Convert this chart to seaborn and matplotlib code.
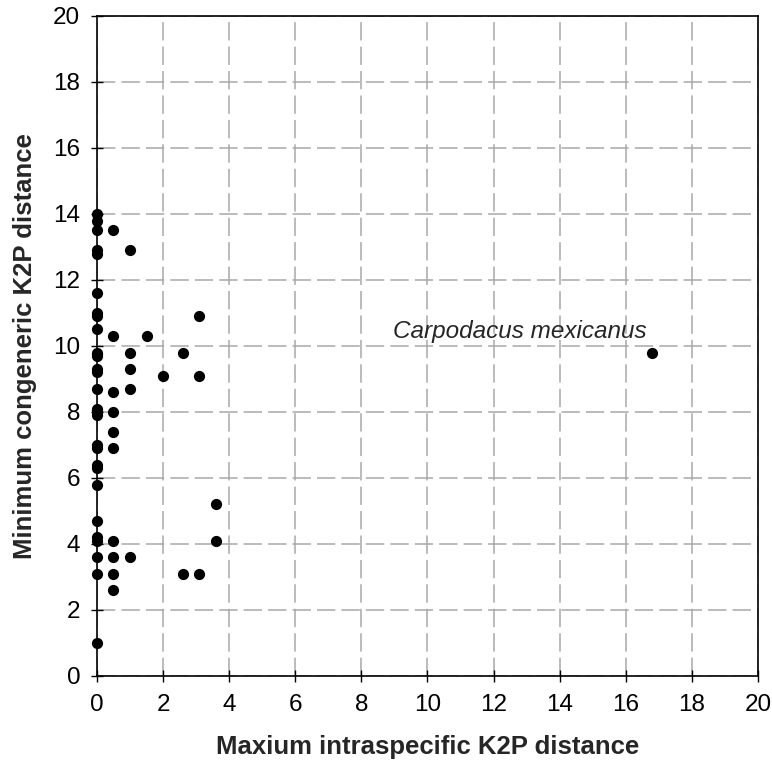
import matplotlib
matplotlib.use("Agg")
import matplotlib.pyplot as plt
import seaborn as sns
import pandas as pd

# Максимальная внутривидовая дистанция (ось X)
intra = [0, 0, 0, 0, 0, 0, 0, 0, 0, 0, 0, 0, 0, 0, 0, 0, 0, 0, 0, 0, 0, 0,
         0, 0, 0, 0, 0, 0, 0, 0,
         0.5, 1.0, 3.1, 0.5, 1.5, 1.0, 2.6, 1.0, 2.0, 3.1, 0.5, 1.0,
         0.5, 0.5, 0.5, 3.6, 0.5, 3.6, 0.5, 1.0, 0.5, 2.6, 3.1, 0.5,
         16.8]
# Минимальная дистанция до родственного вида (ось Y)
congen = [14.0, 13.8, 13.5, 12.9, 12.8, 11.6, 11.0, 10.9, 10.5, 9.8, 9.7,
          9.3, 9.2, 8.7, 8.1, 8.0, 7.9, 7.0, 6.9, 6.4, 6.3, 5.8, 4.7, 4.2,
          4.1, 3.6, 3.1, 1.0, 8.05, 9.75,
          13.5, 12.9, 10.9, 10.3, 10.3, 9.8, 9.8, 9.3, 9.1, 9.1, 8.6, 8.7,
          8.0, 7.4, 6.9, 5.2, 4.1, 4.1, 3.6, 3.6, 3.1, 3.1, 3.1, 2.6,
          9.8]

df = pd.DataFrame({'intra': intra, 'congen': congen})

sns.set_style("white")
plt.rcParams['font.family'] = ['Liberation Sans', 'DejaVu Sans']

fig = plt.figure(figsize=(7.72, 7.64), dpi=100)
ax = fig.add_axes([0.1256, 0.1152, 0.8563, 0.8639])

sns.scatterplot(data=df, x='intra', y='congen', color='black', s=65,
                edgecolor='black', linewidth=0, ax=ax, zorder=3, clip_on=False)

ax.set_xlim(0, 20)
ax.set_ylim(0, 20)
ax.set_xticks(range(0, 21, 2))
ax.set_yticks(range(0, 21, 2))
ax.grid(True, color='#a8a8a8', linestyle=(0, (12, 4)), linewidth=1.1)
for s in ax.spines.values():
    s.set_color('black')
    s.set_linewidth(1.2)
ax.tick_params(axis='both', direction='inout', length=8, width=1, colors='black',
               labelsize=17.5, left=True, bottom=True)
ax.tick_params(axis='x', pad=9)
ax.tick_params(axis='y', pad=8)

ax.text(8.95, 10.45, 'Carpodacus mexicanus', fontsize=17.5, style='italic',
        va='center', ha='left')

ax.set_xlabel('Maxium intraspecific K2P distance', fontsize=18.5, fontweight='bold',
              labelpad=14)
ax.set_ylabel('Minimum congeneric K2P distance', fontsize=18.5, fontweight='bold',
              labelpad=12)

fig.savefig('out.png', dpi=100)
